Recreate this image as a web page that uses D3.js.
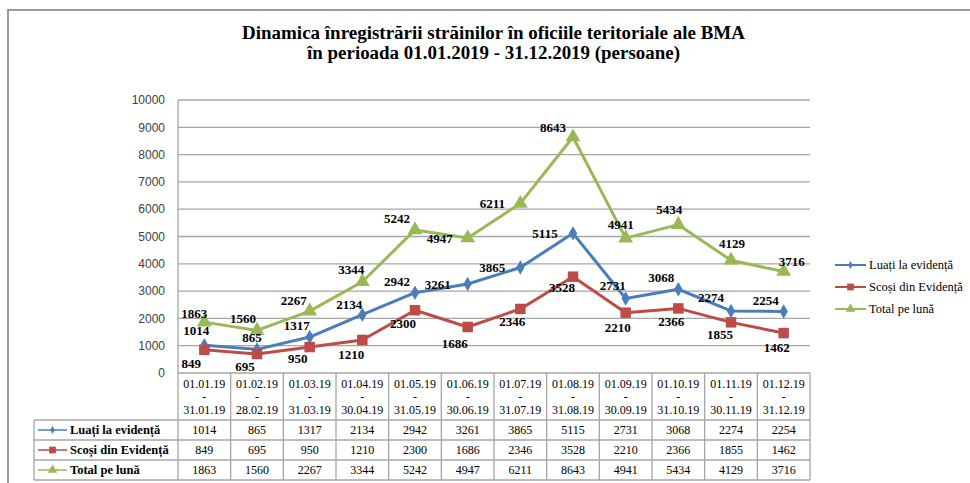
<!DOCTYPE html>
<html>
<head>
<meta charset="utf-8">
<script src="https://cdn.jsdelivr.net/npm/d3@7"></script>
<style>
    body { margin: 0; background: #fff; }
    svg { display: block; }
    .serif { font-family: "Liberation Serif", "DejaVu Serif", "Times New Roman", serif; }
</style>
</head>
<body>
<svg class="chart" width="970" height="483"></svg>
<script>
// Data.
let periodStart = ["01.01.19", "01.02.19", "01.03.19", "01.04.19", "01.05.19", "01.06.19",
    "01.07.19", "01.08.19", "01.09.19", "01.10.19", "01.11.19", "01.12.19"];
let periodEnd = ["31.01.19", "28.02.19", "31.03.19", "30.04.19", "31.05.19", "30.06.19",
    "31.07.19", "31.08.19", "30.09.19", "31.10.19", "30.11.19", "31.12.19"];
let seriesNames = ["Luați la evidență", "Scoși din Evidență", "Total pe lună"];
let luati = [1014, 865, 1317, 2134, 2942, 3261, 3865, 5115, 2731, 3068, 2274, 2254];
let scosi = [849, 695, 950, 1210, 2300, 1686, 2346, 3528, 2210, 2366, 1855, 1462];
let total = [1863, 1560, 2267, 3344, 5242, 4947, 6211, 8643, 4941, 5434, 4129, 3716];
let yTicks = [0, 1000, 2000, 3000, 4000, 5000, 6000, 7000, 8000, 9000, 10000];

// Style / layout (not data).
let colors = ["#4a7ebb", "#be4b48", "#98b954"];
let symbols = [d3.symbolDiamond, d3.symbolSquare, d3.symbolTriangle];
let markerSize = [60, 110, 95];
let legendMarkerSize = [18, 45, 38];
// label offsets from each point (dx, dy), tuned to match Excel's auto placement
let labelNudge = [
    [[-8,-15],[-5,-12],[-13,-12],[-13,-10],[-18,-11],[-30,0],[-28,0],[-28,0],[-13,-13],[-17,-12],[-20,-13],[-18,-11]],
    [[-13,14],[-12,12],[-12,11],[-11,14],[-12,13],[-13,16],[-8,12],[-11,11],[-8,15],[-7,13],[-11,12],[-7,14]],
    [[-10,-9],[-14,-12],[-16,-11],[-11,-12],[-18,-11],[-28,1],[-28,0],[-20,-10],[-5,-14],[-9,-15],[1,-17],[8,-10]]
];

let svg = d3.select(".chart");
let gridColor = "#a6a6a6";

// Outer frame.
svg.append("rect")
    .attr("x", 8).attr("y", 10)
    .attr("width", 1000).attr("height", 600)
    .attr("fill", "none")
    .attr("stroke", "#9a9a9a")
    .attr("stroke-width", 2);

// Title.
let titleLines = [
    {text: "Dinamica înregistrării străinilor în oficiile teritoriale ale BMA", y: 39, len: 503},
    {text: "în perioada 01.01.2019 - 31.12.2019 (persoane)", y: 59, len: 373}
];
titleLines.forEach(t => {
    svg.append("text")
        .attr("class", "serif")
        .attr("x", 493.5).attr("y", t.y)
        .attr("text-anchor", "middle")
        .attr("font-weight", "bold")
        .attr("font-size", 18)
        .attr("textLength", t.len)
        .attr("lengthAdjust", "spacingAndGlyphs")
        .text(t.text);
});

let plot = {left: 178, right: 810, top: 100, bottom: 373};

let x = d3.scaleBand()
    .domain(d3.range(periodStart.length))
    .range([plot.left, plot.right]);

let y = d3.scaleLinear()
    .domain([0, 10000])
    .range([plot.bottom, plot.top]);

// Gridlines.
svg.append("g")
    .selectAll("line")
    .data(yTicks)
    .join("line")
    .attr("x1", plot.left).attr("x2", plot.right)
    .attr("y1", d => y(d)).attr("y2", d => y(d))
    .attr("stroke", gridColor)
    .attr("stroke-width", 1.3);

// Y axis line and labels.
svg.append("line")
    .attr("x1", plot.left).attr("x2", plot.left)
    .attr("y1", plot.top).attr("y2", plot.bottom)
    .attr("stroke", gridColor).attr("stroke-width", 1.3);

svg.append("g")
    .selectAll("text")
    .data(yTicks)
    .join("text")
    .attr("x", 165)
    .attr("y", d => y(d))
    .attr("dy", "0.35em")
    .attr("text-anchor", "end")
    .attr("font-family", "'Liberation Sans', Arial, sans-serif")
    .attr("font-size", 12)
    .attr("fill", "#404040")
    .text(d => d);

// Series lines and markers.
let allSeries = [luati, scosi, total];
allSeries.forEach((values, s) => {
    let line = d3.line()
        .x((d, i) => x(i) + x.bandwidth() / 2)
        .y(d => y(d));
    svg.append("path")
        .datum(values)
        .attr("d", line)
        .attr("fill", "none")
        .attr("stroke", colors[s])
        .attr("stroke-width", 3)
        .attr("stroke-linejoin", "round");

    svg.append("g")
        .selectAll("path")
        .data(values)
        .join("path")
        .attr("d", d3.symbol().type(symbols[s]).size(markerSize[s]))
        .attr("transform", (d, i) => "translate(" + (x(i) + x.bandwidth() / 2) + "," + y(d) + ")")
        .attr("fill", colors[s]);
});

// Data labels.
allSeries.forEach((values, s) => {
    svg.append("g")
        .selectAll("text")
        .data(values)
        .join("text")
        .attr("class", "serif")
        .attr("x", (d, i) => x(i) + x.bandwidth() / 2 + labelNudge[s][i][0])
        .attr("y", (d, i) => y(d) + labelNudge[s][i][1])
        .attr("dy", "0.35em")
        .attr("text-anchor", "middle")
        .attr("font-weight", "bold")
        .attr("font-size", 13)
        .attr("fill", "#000")
        .text(d => d);
});

// Right legend.
let legend = svg.append("g");
[265, 287, 309].forEach((ly, s) => {
    legend.append("line")
        .attr("x1", 835).attr("x2", 866)
        .attr("y1", ly).attr("y2", ly)
        .attr("stroke", colors[s]).attr("stroke-width", 2);
    legend.append("path")
        .attr("d", d3.symbol().type(symbols[s]).size(legendMarkerSize[s]))
        .attr("transform", "translate(850.5," + ly + ")")
        .attr("fill", colors[s]);
    legend.append("text")
        .attr("class", "serif")
        .attr("x", 869).attr("y", ly)
        .attr("dy", "0.35em")
        .attr("font-size", 12.5)
        .attr("fill", "#000")
        .text(seriesNames[s]);
});

// Data table under the plot.
let table = {left: 34, header: 420, rowH: 20};
let tableBottom = table.header + table.rowH * 3;
let tbl = svg.append("g");

// vertical lines on band edges
let edges = d3.range(periodStart.length + 1).map(i => plot.left + i * x.step());
tbl.selectAll("line.v")
    .data(edges)
    .join("line")
    .attr("x1", d => d).attr("x2", d => d)
    .attr("y1", plot.bottom).attr("y2", tableBottom)
    .attr("stroke", gridColor).attr("stroke-width", 1.3);

tbl.append("line")
    .attr("x1", table.left).attr("x2", table.left)
    .attr("y1", table.header).attr("y2", tableBottom)
    .attr("stroke", gridColor).attr("stroke-width", 1.3);

[0, 1, 2, 3].forEach(r => {
    let ly = table.header + r * table.rowH;
    tbl.append("line")
        .attr("x1", table.left).attr("x2", plot.right)
        .attr("y1", ly).attr("y2", ly)
        .attr("stroke", gridColor).attr("stroke-width", 1.3);
});

// header cells
periodStart.forEach((p, i) => {
    let cx = x(i) + x.bandwidth() / 2;
    [p, "-", periodEnd[i]].forEach((t, k) => {
        tbl.append("text")
            .attr("class", "serif")
            .attr("x", cx).attr("y", 384 + k * 13)
            .attr("dy", "0.35em")
            .attr("text-anchor", "middle")
            .attr("font-size", 12)
            .attr("fill", "#000")
            .text(t);
    });
});

// rows
allSeries.forEach((values, s) => {
    let cy = table.header + s * table.rowH + table.rowH / 2;
    tbl.append("line")
        .attr("x1", 38).attr("x2", 67)
        .attr("y1", cy).attr("y2", cy)
        .attr("stroke", colors[s]).attr("stroke-width", 1.5);
    tbl.append("path")
        .attr("d", d3.symbol().type(symbols[s]).size(legendMarkerSize[s]))
        .attr("transform", "translate(52.5," + cy + ")")
        .attr("fill", colors[s]);
    tbl.append("text")
        .attr("class", "serif")
        .attr("x", 70).attr("y", cy)
        .attr("dy", "0.35em")
        .attr("font-weight", "bold")
        .attr("font-size", 12.5)
        .attr("fill", "#000")
        .text(seriesNames[s]);
    tbl.append("g")
        .selectAll("text")
        .data(values)
        .join("text")
        .attr("class", "serif")
        .attr("x", (d, i) => x(i) + x.bandwidth() / 2)
        .attr("y", cy)
        .attr("dy", "0.35em")
        .attr("text-anchor", "middle")
        .attr("font-size", 12)
        .attr("fill", "#000")
        .text(d => d);
});
</script>
</body>
</html>
